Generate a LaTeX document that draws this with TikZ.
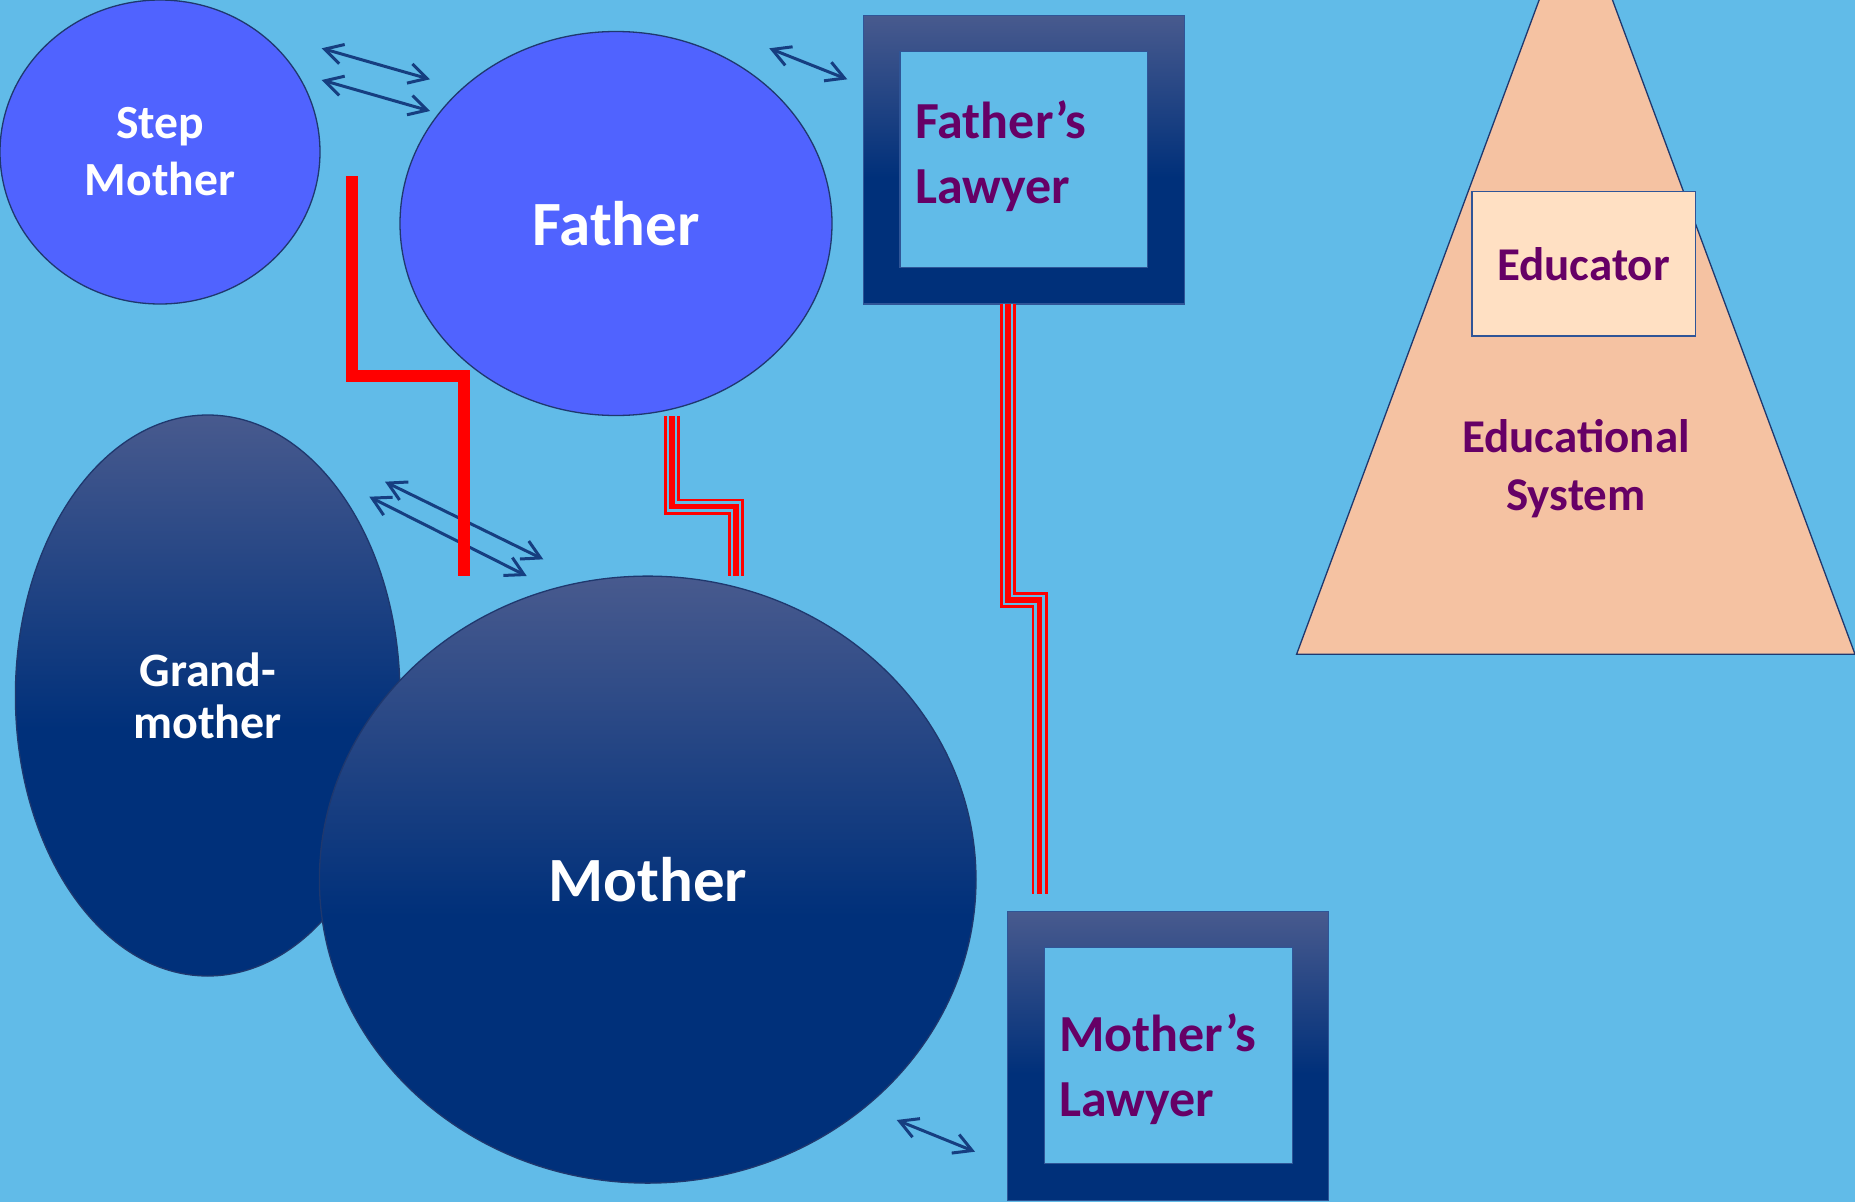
\documentclass[tikz,border=0pt]{standalone}
\usepackage{fontspec}
\setmainfont{Carlito}
\usetikzlibrary{shapes.geometric,arrows.meta}

\definecolor{sky}{RGB}{97,187,232}
\definecolor{bright}{RGB}{80,99,255}
\definecolor{edgec}{RGB}{31,56,110}
\definecolor{slateb}{RGB}{72,90,142}
\definecolor{dnavy}{RGB}{0,48,122}
\definecolor{linkc}{RGB}{22,62,128}
\definecolor{plum}{RGB}{102,0,102}
\definecolor{peach}{RGB}{245,194,162}
\definecolor{cream}{RGB}{255,224,195}
\definecolor{framec}{RGB}{47,85,151}

% dark fill that fades to a greyish blue towards the top
\pgfdeclareverticalshading{deepfade}{100bp}{color(0bp)=(dnavy); color(25bp)=(dnavy); color(47bp)=(dnavy); color(75bp)=(slateb); color(100bp)=(slateb)}

\tikzset{
  person/.style={ellipse, draw=edgec, line width=1.3pt, text=white,
    align=center, inner sep=0pt, outer sep=0pt},
  flat/.style={person, fill=bright},
  deep/.style={person, shading=deepfade},
  bigname/.style={font=\bfseries\fontsize{63}{76}\selectfont},
  smallname/.style={font=\bfseries\fontsize{47.6}{57}\selectfont},
  lawframe/.style={rectangle, draw=framec, line width=1.3pt, shading=deepfade,
    inner sep=0pt, outer sep=0pt},
  lawinner/.style={rectangle, draw=framec, line width=1.3pt, fill=sky,
    inner sep=0pt, outer sep=0pt},
  lawtext/.style={text=plum, font=\bfseries\fontsize{52}{65}\selectfont, align=left,
    inner sep=0pt, anchor=west},
  schooltext/.style={text=plum, font=\bfseries\fontsize{47}{58}\selectfont, align=center,
    inner sep=0pt},
  tie/.style={draw=linkc, line width=3pt,
    {Straight Barb[length=18pt,width=20pt]}-{Straight Barb[length=18pt,width=20pt]}},
  rift/.style={draw=red, line width=12pt, line cap=butt, line join=miter},
  tripleline/.style={draw=red, line width=16pt, line cap=butt, line join=miter,
    postaction={draw=sky, line width=10.6pt, line cap=butt, line join=miter},
    postaction={draw=red, line width=5.3pt, line cap=butt, line join=miter}}
}

\begin{document}
\begin{tikzpicture}[x=1pt,y=-1pt]
\useasboundingbox (0,0) rectangle (1855,1202);
\clip (0,0) rectangle (1855,1202);
\fill[sky] (0,0) rectangle (1855,1202);

% educational system pyramid with the educator inside
\path[draw=edgec, line width=1.3pt, fill=peach]
  (1575.8,-98.9) -- (1296.6,654.2) -- (1855,654.2) -- cycle;
\node[schooltext] (system) at (1576,469) {Educational\\System};
\node[rectangle, draw=framec, line width=1.6pt, fill=cream, minimum width=223.6pt,
  minimum height=144.4pt, inner sep=0pt, text=plum,
  font=\bfseries\fontsize{47}{58}\selectfont] (educator) at (1583.5,263.8) {Educator};

% family members
\node[deep, minimum width=384.6pt, minimum height=561pt,
  font=\bfseries\fontsize{48}{52}\selectfont] (grandmother) at (207.7,695.5) {Grand-\\mother};
\node[deep, bigname, minimum width=656.6pt, minimum height=607pt] (mother) at (647.7,879.6) {Mother};
\node[flat, smallname, minimum width=320pt, minimum height=304pt] (stepmother) at (160,152) {Step\\Mother};
\node[flat, bigname, minimum width=432pt, minimum height=384pt] (father) at (616,223.5) {Father};

% lawyers
\node[lawframe, minimum width=321pt, minimum height=288.3pt] (flawyer) at (1023.8,159.85) {};
\node[lawinner, minimum width=247.7pt, minimum height=215.6pt] (flawyerin) at (1023.85,159.5) {};
\node[lawtext] (flawyertext) at (915,156) {Father’s\\Lawyer};

\node[lawframe, minimum width=321pt, minimum height=289pt] (mlawyer) at (1167.8,1056.2) {};
\node[lawinner, minimum width=248pt, minimum height=215.6pt] (mlawyerin) at (1168.3,1055.5) {};
\node[lawtext] (mlawyertext) at (1059,1069) {Mother’s\\Lawyer};

% ends of the connectors
\coordinate (s1) at (321.7,48.3);  \coordinate (f1) at (430,79.3);
\coordinate (s2) at (321.7,80);    \coordinate (f2) at (430,111);
\coordinate (f3) at (769.3,48.3);  \coordinate (l3) at (847.3,79.3);
\coordinate (g4) at (385,481.7);   \coordinate (m4) at (543.3,559.3);
\coordinate (g5) at (369.3,496.7); \coordinate (m5) at (526.7,576);
\coordinate (m6) at (896.7,1120);  \coordinate (l6) at (975,1151.7);

\draw[tie] (s1) -- (f1);
\draw[tie] (s2) -- (f2);
\draw[tie] (f3) -- (l3);
\draw[tie] (g4) -- (m4);
\draw[tie] (g5) -- (m5);
\draw[tie] (m6) -- (l6);

% conflict lines
\coordinate (r0) at (351.8,176);  \coordinate (r1) at (464,576);
\draw[rift] (r0) |- (408,375.8) -| (r1);

\coordinate (t0) at (672,416);    \coordinate (t1) at (736,575.7);
\draw[tripleline] (t0) |- (704,506.7) -| (t1);

\coordinate (u0) at (1008,304);   \coordinate (u1) at (1039.7,894);
\draw[tripleline] (u0) |- (1024,600) -| (u1);
\end{tikzpicture}
\end{document}
